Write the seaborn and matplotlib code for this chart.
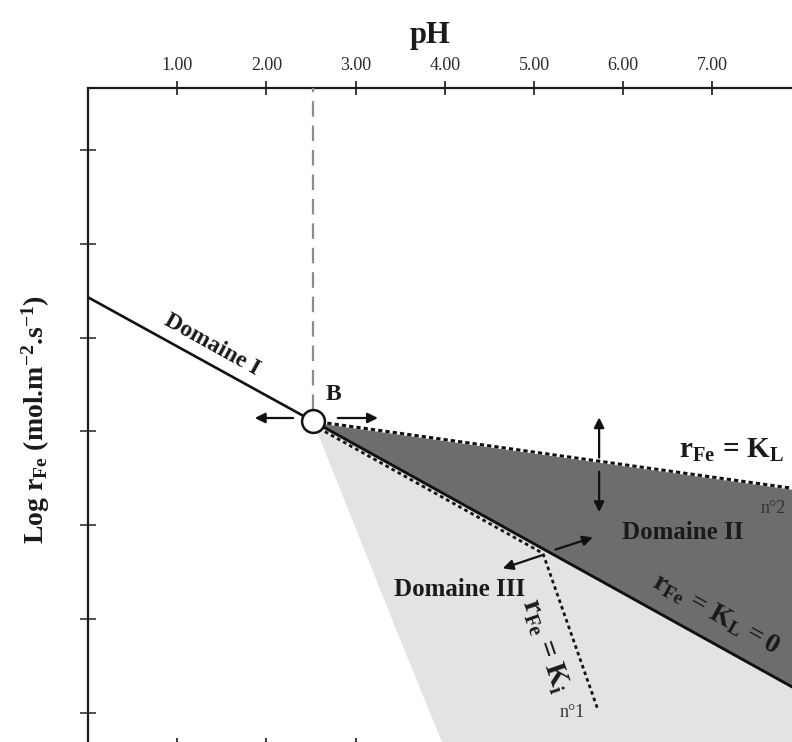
import matplotlib
matplotlib.use("Agg")
import matplotlib.pyplot as plt
import seaborn as sns

# ---------------- data ----------------
ph_ticks = [1, 2, 3, 4, 5, 6, 7]
ph_tick_labels = ["1.00", "2.00", "3.00", "4.00", "5.00", "6.00", "7.00"]
logr_ticks = [0, -1, -2, -3, -4, -5, -6]

ph_B, logr_B = 2.52, -2.89

ph_domaine1 = [0.0, 2.52]
logr_domaine1 = [-1.57, -2.89]

ph_KL = [2.52, 8.0]            # r_Fe = K_L  (n°2, dotted)
logr_KL = [-2.89, -3.62]

ph_KL0 = [2.52, 8.0]           # r_Fe = K_L = 0 (solid)
logr_KL0 = [-2.89, -5.78]

ph_Ki = [2.52, 5.10, 5.71]     # r_Fe = K_i (n°1, dotted)
logr_Ki = [-2.93, -4.30, -5.95]

ph_dom3_edge = [2.52, 3.50, 4.05]   # left edge of Domaine III
logr_dom3_edge = [-2.89, -5.22, -6.50]

# ---------------- style ----------------
sns.set_style("white")
plt.rcParams["font.family"] = ["Liberation Serif", "DejaVu Serif"]
plt.rcParams["mathtext.fontset"] = "custom"
plt.rcParams["mathtext.rm"] = "Liberation Serif"
plt.rcParams["mathtext.it"] = "Liberation Serif:italic"
plt.rcParams["mathtext.bf"] = "Liberation Serif:bold"
plt.rcParams["mathtext.default"] = "bf"

W, H = 792, 742
fig = plt.figure(figsize=(W / 100, H / 100), dpi=100)

# axes box: left spine at x=88px, top at y=88px, right/bottom cropped away
x_left, x_right = 0.0, 8.0
y_top, y_bot = 0.661, -6.343
px_left, px_right = 88, 88 + 8 * 89.2
py_top, py_bot = 88, 745
ax = fig.add_axes([px_left / W, 1 - py_bot / H,
                   (px_right - px_left) / W, (py_bot - py_top) / H])
ax.set_xlim(x_left, x_right)
ax.set_ylim(y_bot, y_top)

DARK = "#6b6d6f"
LIGHT = "#e2e3e4"

# Domaine III (light) region
ax.fill(ph_dom3_edge + [9.0, 9.0, ph_KL0[-1]],
        logr_dom3_edge + [-7.0, logr_KL0[-1], logr_KL0[-1]],
        color=LIGHT, lw=0, zorder=1)
# Domaine II (dark) region
ax.fill_between(ph_KL, logr_KL, logr_KL0, color=DARK, lw=0, zorder=2)

# vertical dashed line at pH of B
ax.vlines(ph_B, logr_B + 0.12, y_top, colors="#8c8c8c", lw=1.6,
          linestyles=[(0, (7, 4))], zorder=3)

# Domaine I line
sns.lineplot(x=ph_domaine1, y=logr_domaine1, ax=ax, color="#111111",
             lw=1.9, estimator=None, sort=False, zorder=4)
# r_Fe = K_L = 0 (solid)
sns.lineplot(x=ph_KL0, y=logr_KL0, ax=ax, color="#111111",
             lw=2.1, estimator=None, sort=False, zorder=4)
# r_Fe = K_L (dotted, with white underlay)
sns.lineplot(x=ph_KL, y=logr_KL, ax=ax, color="white",
             lw=2.2, estimator=None, sort=False, zorder=5)
sns.lineplot(x=ph_KL, y=logr_KL, ax=ax, color="#111111",
             lw=2.2, linestyle=(0, (1.4, 1.0)), estimator=None,
             sort=False, zorder=6)
# r_Fe = K_i (dotted)
sns.lineplot(x=ph_Ki, y=logr_Ki, ax=ax, color="#111111",
             lw=2.0, linestyle=(0, (1.3, 1.2)), estimator=None,
             sort=False, zorder=6)

# point B
sns.scatterplot(x=[ph_B], y=[logr_B], ax=ax, s=270, color="white",
                edgecolor="#111111", linewidth=1.8, zorder=8, legend=False)

# arrows
arr = dict(arrowstyle="-|>", color="#111111", lw=1.6, mutation_scale=15,
           shrinkA=0, shrinkB=0)
for (x0, y0), (x1, y1) in [((2.30, -2.857), (1.87, -2.857)),
                           ((2.80, -2.857), (3.25, -2.857)),
                           ((5.73, -3.28), (5.73, -2.85)),
                           ((5.73, -3.43), (5.73, -3.86)),
                           ((5.24, -4.26), (5.66, -4.13)),
                           ((5.09, -4.32), (4.65, -4.46))]:
    ax.annotate("", xy=(x1, y1), xytext=(x0, y0), arrowprops=arr, zorder=9)

# texts
tc = "#1a1a1a"
ax.text(1.39, -2.08, "Domaine I", rotation=-29, rotation_mode="anchor",
        ha="center", va="center", fontsize=17, fontweight="bold", color=tc)
ax.text(2.75, -2.61, "B", ha="center", va="center", fontsize=17,
        fontweight="bold", color=tc)
ax.text(7.21, -3.20, r"$r_{Fe}\,=\,K_{L}$", ha="center", va="center",
        fontsize=21, color=tc)
ax.text(7.68, -3.82, "n°2", ha="center", va="center", fontsize=13, color="#333333")
ax.text(6.67, -4.08, "Domaine II", ha="center", va="center", fontsize=18,
        fontweight="bold", color=tc)
ax.text(4.17, -4.69, "Domaine III", ha="center", va="center", fontsize=18,
        fontweight="bold", color=tc)
ax.text(5.12, -5.28, r"$r_{Fe}\,=\,K_{i}$", rotation=-71,
        rotation_mode="anchor", ha="center", va="center", fontsize=21, color=tc)
ax.text(7.04, -4.95, r"$r_{Fe}\,=\,K_{L}\,=0$", rotation=-29,
        rotation_mode="anchor", ha="center", va="center", fontsize=20, color=tc)
ax.text(5.43, -6.00, "n°1", ha="center", va="center", fontsize=13, color="#333333")

# axes styling
for side in ["top", "left", "right", "bottom"]:
    ax.spines[side].set_visible(True)
    ax.spines[side].set_color("#1a1a1a")
    ax.spines[side].set_linewidth(1.6)

ax.set_xticks(ph_ticks)
ax.set_xticklabels(ph_tick_labels)
ax.set_yticks(logr_ticks)
ax.set_yticklabels([])
ax.tick_params(axis="x", top=True, bottom=True, labeltop=True,
               labelbottom=False, direction="inout", length=10, width=1.2,
               color="#1a1a1a", labelsize=13, labelcolor="#2a2a2a", pad=5)
ax.tick_params(axis="y", left=True, right=True, labelleft=False,
               direction="inout", length=12, width=1.2, color="#333333")
ax.set_xlabel("")
ax.set_ylabel("")

fig.text(430 / W, 1 - 36 / H, "pH", ha="center", va="center",
         fontsize=22, fontweight="bold", color=tc)
fig.text(36 / W, 1 - 420 / H, r"Log r$_{Fe}$ (mol.m$^{-2}$.s$^{-1}$)",
         rotation=90, ha="center", va="center", fontsize=20,
         fontweight="bold", color=tc)

fig.savefig("out.png", dpi=100)
